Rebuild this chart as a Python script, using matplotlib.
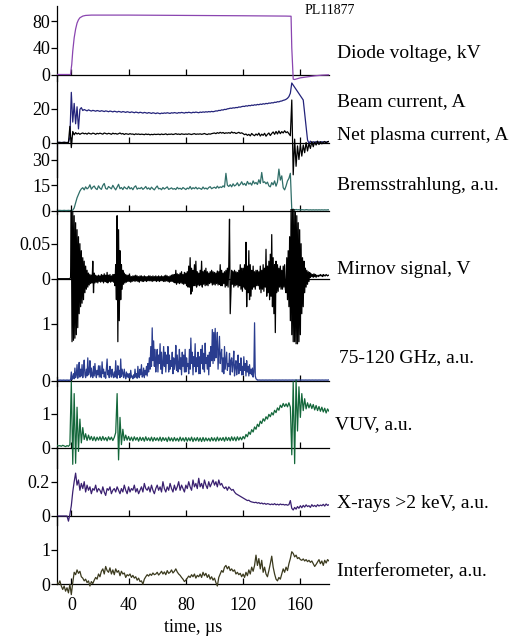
import matplotlib
matplotlib.use('Agg')
import matplotlib.pyplot as plt
import numpy as np
from matplotlib.ticker import FormatStrFormatter

plt.rcParams['font.family'] = ['Liberation Serif', 'DejaVu Serif']
plt.rcParams['font.size'] = 13

# sampled traces: one value per microsecond, t = -10 ... 180 us
t = np.arange(-10, 181)
# fast traces (Mirnov, GHz): one value per 0.5 us
t_fast = np.arange(-10, 180.5, 0.5)
time_ticks = [0, 40, 80, 120, 160]

# diode voltage, kV (read at breakpoints)
diode_t = [-10, -0.5, 0, 0.3, 1, 2, 3, 4, 5, 6, 8, 10, 14, 40, 80, 120, 150,
           153.5, 154, 155, 156, 160, 165, 170, 175, 180]
diode_v = [0, 0, 10, 15, 35, 55, 68, 77, 82, 85, 87.5, 88.5, 89, 89, 88.5, 88, 87.5,
           87.3, 40, -7, -7.5, -5, -3.5, -2, -1, -0.5]

# beam current, A
beam = [
    0, 0, 0.1, 0, 0, 0.1, 0, 0, 0.2, 3.0,
    29.5, 12, 23, 11, 21, 8, 19.5, 20.5, 18.8, 19.4,
    19.0, 18.6, 19.2, 18.8, 18.5, 18.9, 18.7, 18.4, 18.8, 18.6,
    18.3, 18.7, 18.5, 18.2, 18.6, 18.4, 18.1, 18.5, 18.3, 18.0,
    18.4, 18.2, 17.9, 18.3, 18.1, 17.8, 18.2, 18.0, 17.7, 18.1,
    17.9, 17.6, 18.0, 17.8, 17.5, 17.9, 17.7, 17.4, 17.8, 17.6,
    17.3, 17.7, 17.5, 17.2, 17.6, 17.4, 17.1, 17.5, 17.3, 17.0,
    17.4, 17.2, 16.9, 17.3, 17.1, 17.4, 17.2, 17.5, 17.3, 17.1,
    17.5, 17.3, 17.6, 17.4, 17.2, 17.6, 17.4, 17.7, 17.5, 17.3,
    17.7, 17.5, 17.8, 17.6, 17.4, 17.8, 17.6, 17.9, 17.7, 17.5,
    17.9, 17.7, 18.0, 17.8, 18.1, 17.9, 18.2, 18.0, 18.3, 18.1,
    18.3, 18.6, 18.5, 18.9, 18.8, 19.2, 19.1, 19.5, 19.4, 19.8,
    19.9, 20.2, 20.1, 20.4, 20.3, 20.6, 20.5, 20.9, 20.8, 21.1,
    21.3, 21.2, 21.6, 21.4, 21.8, 21.6, 22.0, 21.8, 22.2, 22.0,
    22.4, 22.2, 22.6, 22.4, 22.8, 22.6, 23.0, 22.8, 23.2, 23.1,
    23.4, 23.3, 23.7, 23.6, 24.0, 23.9, 24.3, 24.4, 24.8, 25.0,
    25.4, 26.0, 27.0, 29.0, 35.0, 33.8, 32.5, 31.2, 30.0, 28.8,
    27.5, 26.2, 25.0, 17.0, 9.0, 1.5, -0.5, 0.8, -0.6, 0.5,
    -0.3, 0.6, -0.2, 0.4, 0.0, 0.5, 0.1, 0.4, 0.2, 0.5,
    0.6,
]

# net plasma current, A
net_plasma = [
    0, 0.1, 0, -0.1, 0, 0.1, 0, -0.1, 0, 9.5,
    -3, 6.5, 4.5, 5.8, 5.0, 5.5, 4.8, 5.3, 5.6, 5.1,
    5.4, 4.9, 5.6, 5.2, 5.0, 5.5, 5.3, 4.8, 5.4, 5.1,
    5.5, 5.2, 4.9, 5.6, 5.3, 5.0, 5.4, 5.2, 4.8, 5.5,
    5.1, 5.3, 4.9, 5.2, 5.6, 5.0, 5.3, 4.7, 5.2, 5.0,
    4.8, 5.2, 4.9, 5.0, 4.6, 5.1, 4.8, 5.0, 4.7, 4.9,
    4.8, 4.6, 5.0, 4.7, 4.9, 4.5, 4.8, 4.6, 4.9, 4.7,
    4.8, 4.9, 4.6, 5.0, 4.7, 4.8, 5.1, 4.6, 4.9, 4.8,
    5.0, 4.7, 4.9, 5.2, 4.8, 5.0, 4.7, 5.1, 4.9, 4.8,
    5.0, 4.8, 5.1, 4.9, 4.7, 5.0, 5.2, 4.8, 5.0, 4.9,
    5.1, 4.8, 5.0, 5.3, 4.9, 4.7, 5.1, 4.9, 5.2, 5.4,
    5.6, 5.2, 5.8, 5.4, 6.0, 5.5, 5.9, 5.3, 5.7, 5.5,
    5.8, 5.4, 6.2, 5.6, 5.9, 5.3, 5.6, 6.0, 5.4, 5.7,
    5.2, 4.6, 5.0, 4.2, 4.8, 3.9, 5.3, 4.5, 4.0, 5.0,
    4.3, 5.5, 3.8, 4.9, 4.2, 5.4, 3.7, 4.8, 5.6, 4.1,
    5.3, 6.2, 4.8, 6.5, 5.0, 6.8, 5.2, 6.4, 5.6, 6.9,
    5.8, 6.3, 5.2, 4.0, 25.0, -19.0, 2.0, -14.0, -2.0, -10.0,
    -1.0, -8.0, -1.5, -6.0, 0.0, -5.0, -0.5, -3.5, 0.5, -2.5,
    0.3, -1.5, 0.8, -1.2, 0.5, -0.8, 0.2, 0.6, -0.4, 0.5,
    0.6,
]

# bremsstrahlung, a.u.
brems = [
    0, 0, 0.1, 0, 0, 0.1, 0, 0, 0.1, 0,
    0, 0.2, 1.5, 4.5, 7.5, 9.5, 11.5, 12.8, 13.5, 12.2,
    14.0, 12.8, 13.5, 15.2, 12.6, 13.8, 14.5, 13.0, 12.4, 14.6,
    13.2, 12.5, 14.8, 16.0, 13.0, 12.6, 14.2, 13.5, 12.8, 14.9,
    13.4, 12.2, 13.8, 15.5, 12.9, 13.6, 12.4, 14.0, 13.2, 12.7,
    14.3, 12.8, 13.5, 12.3, 13.9, 14.6, 12.6, 13.3, 12.9, 13.7,
    12.5, 13.2, 14.2, 12.7, 13.4, 12.4, 13.8, 12.9, 12.2, 13.5,
    14.5, 12.8, 13.1, 12.3, 13.6, 12.7, 13.3, 14.0, 12.5, 12.9,
    13.4, 12.6, 13.0, 12.4, 13.7, 12.8, 13.2, 12.5, 13.6, 13.0,
    12.4, 13.3, 12.8, 14.2, 12.6, 13.5, 12.9, 13.8, 12.7, 13.4,
    13.0, 12.5, 13.9, 12.8, 13.3, 12.6, 13.6, 14.1, 12.9, 13.4,
    13.8, 13.1, 14.4, 13.3, 14.0, 13.6, 14.6, 13.8, 22.0, 15.0,
    14.2, 15.3, 14.0, 15.8, 14.5, 15.1, 16.4, 14.6, 15.5, 17.0,
    15.2, 16.0, 14.8, 17.2, 15.6, 16.3, 15.0, 17.5, 15.8, 16.6,
    15.4, 18.2, 16.0, 22.5, 16.5, 17.0, 15.8, 16.8, 14.6, 14.0,
    16.5, 15.2, 17.5, 14.4, 16.8, 24.5, 18.0, 20.5, 13.5, 12.2,
    14.5, 17.5, 19.0, 22.0, 0.5, 0.8, 0.3, 0.6, 0.4, 0.5,
    0.3, 0.5, 0.4, 0.3, 0.5, 0.4, 0.3, 0.4, 0.3, 0.4,
    0.3, 0.4, 0.3, 0.4, 0.3, 0.4, 0.3, 0.4, 0.3, 0.4,
    0.4,
]

# Mirnov signal, V (0.5 us steps, one row = 10 us)
mirnov = [
    0, 0, 0, 0, 0, 0, 0, 0, 0, 0, 0, 0, 0, 0, 0, 0, 0, 0, 0, 0.002,
    0.098, -0.09, 0.095, -0.088, 0.09, -0.085, 0.08, -0.08, 0.07, -0.07,
    0.06, -0.05, 0.05, -0.04, 0.04, -0.035, 0.03, -0.03, 0.025, -0.02,
    0.018, -0.015, 0.012, -0.012, 0.008, -0.009, 0.006, -0.007, 0.005, -0.006,
    0.025, -0.02, 0.008, -0.006, 0.005, -0.005, 0.004, -0.006, 0.005, -0.004,
    0.004, -0.005, 0.006, -0.004, 0.005, -0.006, 0.007, -0.004, 0.005, -0.005,
    0.009, -0.006, 0.005, -0.004, 0.006, -0.005, 0.004, -0.004, 0.006, -0.005,
    0.006, -0.01, 0.02, -0.03, 0.09, -0.09, 0.07, -0.06, 0.04, -0.03,
    0.02, -0.015, 0.012, -0.008, 0.008, -0.006, 0.006, -0.005, 0.005, -0.004,
    0.005, -0.004, 0.004, -0.005, 0.003, -0.004, 0.004, -0.003, 0.004, -0.004,
    0.005, -0.003, 0.004, -0.004, 0.003, -0.005, 0.004, -0.003, 0.004, -0.004,
    0.003, -0.004, 0.004, -0.003, 0.003, -0.004, 0.003, -0.003, 0.004, -0.003,
    0.004, -0.003, 0.003, -0.004, 0.004, -0.003, 0.003, -0.003, 0.004, -0.004,
    0.003, -0.003, 0.004, -0.004, 0.003, -0.003, 0.004, -0.003, 0.003, -0.004,
    0.004, -0.004, 0.005, -0.003, 0.004, -0.004, 0.003, -0.005, 0.004, -0.004,
    0.005, -0.004, 0.006, -0.005, 0.006, -0.006, 0.012, -0.008, 0.007, -0.006,
    0.006, -0.007, 0.008, -0.006, 0.01, -0.007, 0.006, -0.008, 0.009, -0.007,
    0.008, -0.01, 0.01, -0.012, 0.018, -0.012, 0.03, -0.022, 0.015, -0.018,
    0.012, -0.01, 0.02, -0.01, 0.025, -0.012, 0.01, -0.009, 0.008, -0.01,
    0.012, -0.009, 0.025, -0.012, 0.01, -0.008, 0.012, -0.01, 0.015, -0.009,
    0.01, -0.01, 0.008, -0.007, 0.01, -0.006, 0.012, -0.009, 0.01, -0.008,
    0.009, -0.009, 0.008, -0.007, 0.011, -0.009, 0.01, -0.008, 0.02, -0.01,
    0.012, -0.01, 0.008, -0.007, 0.01, -0.012, 0.012, -0.01, 0.015, -0.012,
    0.02, 0.085, -0.05, -0.02, 0.012, -0.008, 0.01, -0.012, 0.012, -0.01,
    0.01, -0.009, 0.009, -0.012, 0.012, -0.01, 0.02, -0.015, 0.015, -0.018,
    0.015, -0.012, 0.02, -0.015, 0.052, -0.04, 0.018, -0.02, 0.04, -0.03,
    0.02, -0.025, 0.012, -0.015, 0.018, -0.012, 0.01, -0.015, 0.012, -0.01,
    0.012, -0.01, 0.01, -0.015, 0.018, -0.02, 0.012, -0.015, 0.02, -0.018,
    0.015, -0.012, 0.042, -0.025, 0.018, -0.02, 0.025, -0.03, 0.035, -0.025,
    0.063, -0.04, 0.03, -0.05, 0.02, -0.077, 0.025, -0.02, 0.02, -0.018,
    0.015, -0.012, 0.018, -0.015, 0.012, -0.015, 0.018, -0.012, 0.02, -0.015,
    -0.02, 0.03, -0.03, 0.04, -0.04, 0.06, -0.06, 0.1, -0.08, 0.1,
    -0.09, 0.1, -0.09, 0.095, -0.093, 0.09, -0.093, 0.08, -0.09, 0.07,
    -0.08, 0.05, -0.05, 0.03, -0.04, 0.025, -0.02, 0.015, -0.012, 0.012,
    -0.008, 0.01, -0.004, 0.009, 0.002, 0.007, 0.003, 0.006, 0.002, 0.007,
    0.003, 0.006, 0.002, 0.005, 0.004, 0.003, 0.005, 0.004, 0.006, 0.004,
    0.005, 0.003, 0.006, 0.004, 0.005, 0.004, 0.006, 0.005, 0.004, 0.005,
    0.005,
]

# 75-120 GHz emission, a.u. (0.5 us steps, one row = 10 us)
ghz = [
    0, 0.01, 0, 0.01, 0, 0.01, 0, 0.01, 0, 0.01, 0, 0.01, 0, 0.01, 0, 0.01, 0, 0.01, 0, 0.01,
    0.15, 0.02, 0.05, 0.12, 0.03, 0.22, 0.05, 0.1, 0.28, 0.04,
    0.15, 0.32, 0.06, 0.2, 0.08, 0.28, 0.05, 0.18, 0.36, 0.1,
    0.05, 0.2, 0.08, 0.4, 0.1, 0.15, 0.35, 0.06, 0.22, 0.1,
    0.05, 0.25, 0.08, 0.3, 0.12, 0.05, 0.18, 0.1, 0.26, 0.06,
    0.26, 0.08, 0.05, 0.33, 0.12, 0.2, 0.06, 0.15, 0.04, 0.22,
    0.38, 0.1, 0.18, 0.05, 0.25, 0.12, 0.06, 0.2, 0.1, 0.05,
    0.15, 0.06, 0.35, 0.12, 0.04, 0.26, 0.1, 0.18, 0.05, 0.38,
    0.07, 0.2, 0.12, 0.05, 0.2, 0.08, 0.03, 0.15, 0.06, 0.12,
    0.05, 0.12, 0.04, 0.18, 0.06, 0.08, 0.03, 0.1, 0.05, 0.2,
    0.06, 0.12, 0.04, 0.25, 0.08, 0.05, 0.2, 0.1, 0.28, 0.06,
    0.08, 0.22, 0.05, 0.18, 0.1, 0.25, 0.08, 0.3, 0.15, 0.4,
    0.2, 0.6, 0.25, 0.93, 0.35, 0.7, 0.25, 0.55, 0.15, 0.4,
    0.55, 0.15, 0.45, 0.3, 0.65, 0.2, 0.5, 0.12, 0.3, 0.6,
    0.25, 0.5, 0.15, 0.45, 0.3, 0.6, 0.15, 0.45, 0.2, 0.35,
    0.25, 0.5, 0.12, 0.4, 0.2, 0.3, 0.62, 0.18, 0.45, 0.15,
    0.3, 0.55, 0.2, 0.4, 0.1, 0.5, 0.25, 0.45, 0.15, 0.55,
    0.15, 0.4, 0.25, 0.3, 0.12, 0.55, 0.2, 0.75, 0.3, 0.5,
    0.1, 0.42, 0.25, 0.65, 0.15, 0.4, 0.25, 0.5, 0.12, 0.42,
    0.12, 0.55, 0.3, 0.62, 0.2, 0.48, 0.15, 0.66, 0.3, 0.4,
    0.2, 0.45, 0.1, 0.5, 0.25, 0.6, 0.35, 0.9, 0.3, 0.85,
    0.35, 0.92, 0.4, 0.6, 0.85, 0.2, 0.5, 0.78, 0.3, 0.45,
    0.55, 0.15, 0.4, 0.12, 0.6, 0.2, 0.35, 0.5, 0.18, 0.3,
    0.25, 0.48, 0.1, 0.35, 0.4, 0.15, 0.3, 0.52, 0.08, 0.25,
    0.35, 0.1, 0.22, 0.45, 0.12, 0.3, 0.18, 0.4, 0.1, 0.25,
    0.1, 0.42, 0.18, 0.3, 0.08, 0.35, 0.15, 0.25, 0.08, 0.28,
    0.12, 0.2, 0.1, 0.22, 0.06, 0.15, 1.02, 0.08, 0.03, 0.02,
    0.005, 0.01, 0.005, 0.01, 0.005, 0.01, 0.005, 0.01, 0.005, 0.01,
    0.005, 0.01, 0.005, 0.01, 0.005, 0.01, 0.005, 0.01, 0.005, 0.01,
    0.005, 0.01, 0.005, 0.01, 0.005, 0.01, 0.005, 0.01, 0.005, 0.01,
    0.005, 0.01, 0.005, 0.01, 0.005, 0.01, 0.005, 0.01, 0.005, 0.01,
    0.005, 0.01, 0.005, 0.01, 0.005, 0.01, 0.005, 0.01, 0.005, 0.01,
    0.005, 0.01, 0.005, 0.01, 0.005, 0.01, 0.005, 0.01, 0.005, 0.01,
    0.005, 0.01, 0.005, 0.01, 0.005, 0.01, 0.005, 0.01, 0.005, 0.01,
    0.005, 0.01, 0.005, 0.01, 0.005, 0.01, 0.005, 0.01, 0.005, 0.01,
    0.005, 0.01, 0.005, 0.01, 0.005, 0.01, 0.005, 0.01, 0.005, 0.01,
    0.005, 0.01, 0.005, 0.01, 0.005, 0.01, 0.005, 0.01, 0.005, 0.01,
    0.01,
]

# VUV, a.u.
vuv = [
    0.08, 0.06, 0.07, 0.05, 0.08, 0.06, 0.04, 0.07, 0.05, 0.1,
    1.95, -0.48, 1.6, -0.45, 1.2, -0.1, 0.85, 0.15, 0.6, 0.25,
    0.42, 0.22, 0.38, 0.24, 0.34, 0.22, 0.33, 0.21, 0.32, 0.23,
    0.33, 0.22, 0.34, 0.23, 0.31, 0.21, 0.33, 0.24, 0.32, 0.22,
    0.31, 0.45, 1.6, -0.35, 0.9, 0.1, 0.55, 0.22, 0.38, 0.23,
    0.34, 0.22, 0.32, 0.21, 0.33, 0.23, 0.31, 0.2, 0.32, 0.22,
    0.31, 0.2, 0.33, 0.22, 0.3, 0.21, 0.32, 0.2, 0.31, 0.22,
    0.3, 0.21, 0.32, 0.2, 0.31, 0.22, 0.3, 0.19, 0.32, 0.21,
    0.3, 0.2, 0.31, 0.21, 0.29, 0.2, 0.32, 0.21, 0.3, 0.2,
    0.31, 0.2, 0.3, 0.21, 0.32, 0.19, 0.3, 0.21, 0.31, 0.2,
    0.3, 0.19, 0.31, 0.2, 0.3, 0.21, 0.29, 0.2, 0.31, 0.21,
    0.3, 0.2, 0.32, 0.21, 0.3, 0.22, 0.31, 0.2, 0.32, 0.22,
    0.31, 0.21, 0.33, 0.22, 0.32, 0.21, 0.33, 0.23, 0.32, 0.24,
    0.34, 0.27, 0.4, 0.33, 0.47, 0.4, 0.54, 0.47, 0.62, 0.55,
    0.7, 0.63, 0.79, 0.72, 0.86, 0.79, 0.92, 0.85, 0.99, 0.92,
    1.04, 0.97, 1.11, 1.04, 1.18, 1.11, 1.26, 1.19, 1.31, 1.22,
    1.3, 1.21, 1.33, 1.2, -0.2, 1.95, -0.46, 2.0, 0.5, 1.8,
    0.9, 1.6, 1.1, 1.45, 1.15, 1.33, 1.18, 1.3, 1.16, 1.28,
    1.12, 1.25, 1.1, 1.22, 1.08, 1.2, 1.06, 1.17, 1.03, 1.15,
    1.08,
]

# X-rays > 2 keV, a.u.
xrays = [
    0, 0, 0, 0, 0, 0, 0, 0, -0.03, 0.01,
    0.06, 0.14, 0.2, 0.25, 0.18, 0.21, 0.15, 0.19, 0.16, 0.2,
    0.14, 0.18, 0.15, 0.17, 0.13, 0.16, 0.15, 0.18, 0.14, 0.16,
    0.15, 0.13, 0.17, 0.14, 0.12, 0.16, 0.15, 0.17, 0.13, 0.15,
    0.16, 0.14, 0.17, 0.15, 0.13, 0.16, 0.14, 0.18, 0.15, 0.13,
    0.17, 0.14, 0.16, 0.15, 0.18, 0.14, 0.16, 0.13, 0.15, 0.17,
    0.14, 0.19, 0.16, 0.15, 0.17, 0.14, 0.18, 0.15, 0.13, 0.16,
    0.18, 0.15, 0.17, 0.14, 0.2, 0.16, 0.14, 0.17, 0.15, 0.19,
    0.16, 0.14, 0.18, 0.15, 0.17, 0.2, 0.15, 0.18, 0.16, 0.14,
    0.18, 0.16, 0.2, 0.17, 0.15, 0.21, 0.17, 0.19, 0.16, 0.22,
    0.17, 0.19, 0.16, 0.21, 0.18, 0.16, 0.2, 0.17, 0.19, 0.21,
    0.18, 0.2, 0.17, 0.21, 0.18, 0.19, 0.17, 0.16, 0.17, 0.15,
    0.17, 0.16, 0.15, 0.155, 0.14, 0.13, 0.125, 0.12, 0.115, 0.11,
    0.105, 0.1, 0.095, 0.09, 0.092, 0.085, 0.082, 0.08, 0.078, 0.08,
    0.075, 0.078, 0.072, 0.076, 0.07, 0.074, 0.068, 0.072, 0.07, 0.066,
    0.07, 0.066, 0.072, 0.065, 0.069, 0.064, 0.07, 0.066, 0.068, 0.064,
    0.067, 0.063, 0.066, 0.09, 0.045, 0.035, 0.05, 0.04, 0.055, 0.045,
    0.06, 0.048, 0.062, 0.052, 0.065, 0.055, 0.06, 0.05, 0.066, 0.056,
    0.062, 0.054, 0.066, 0.058, 0.064, 0.06, 0.068, 0.058, 0.07, 0.062,
    0.066,
]

# interferometer, a.u.
interf = [
    0.05, 0.0, 0.1, -0.05, -0.15, -0.05, -0.2, -0.1, -0.25, 0.0,
    -0.3, 0.05, 0.35, 0.28, 0.42, 0.32, 0.38, 0.22, 0.18, 0.1,
    0.15, 0.05, 0.1, -0.05, 0.08, 0.02, 0.12, 0.2, 0.15, 0.3,
    0.22, 0.38, 0.45, 0.3, 0.52, 0.4, 0.35, 0.48, 0.3, 0.42,
    0.28, 0.45, 0.35, 0.4, 0.25, 0.38, 0.3, 0.33, 0.2, 0.28,
    0.25, 0.3, 0.2, 0.26, 0.18, 0.22, 0.12, 0.18, 0.08, 0.1,
    0.0, 0.15, 0.22, 0.28, 0.24, 0.3, 0.26, 0.33, 0.28, 0.3,
    0.35, 0.27, 0.32, 0.38, 0.3, 0.36, 0.28, 0.4, 0.32, 0.35,
    0.42, 0.33, 0.38, 0.45, 0.36, 0.3, 0.26, 0.2, 0.15, 0.08,
    0.12, 0.18, 0.24, 0.2, 0.28, 0.22, 0.3, 0.18, 0.26, 0.22,
    0.3, 0.2, 0.35, 0.25, 0.32, 0.2, 0.28, 0.15, 0.22, 0.12,
    0.18, 0.05, -0.05, 0.2, 0.3, 0.4, 0.35, 0.5, 0.55, 0.45,
    0.52, 0.4, 0.45, 0.38, 0.42, 0.3, 0.35, 0.28, 0.32, 0.22,
    0.3, 0.2, 0.35, 0.25, 0.42, 0.3, 0.5, 0.38, 0.55, 0.85,
    0.55, 0.75, 0.45, 0.7, 0.35, 0.5, 0.3, 0.22, 0.4, 0.6,
    0.82, 0.5, 0.3, 0.15, 0.1, 0.2, 0.15, 0.3, 0.45, 0.35,
    0.5, 0.4, 0.6, 0.75, 0.95, 0.9, 0.8, 0.85, 0.75, 0.78,
    0.72, 0.7, 0.74, 0.68, 0.72, 0.66, 0.7, 0.64, 0.68, 0.6,
    0.52, 0.58, 0.65, 0.72, 0.6, 0.68, 0.55, 0.7, 0.62, 0.72,
    0.68,
]

W, H = 515, 641
fig = plt.figure(figsize=(W / 100, H / 100), dpi=100)


def add_panel(zero_px, px_per_unit, lo, hi, yticks, spine_from_zero=False):
    # place an axes so that y=0 sits at pixel row zero_px (from the top)
    bottom = (H - zero_px + lo * px_per_unit) / H
    height = (hi - lo) * px_per_unit / H
    ax = fig.add_axes([57 / W, bottom, 272 / W, height])
    ax.patch.set_visible(False)
    ax.set_xlim(-10, 180)
    ax.set_ylim(lo, hi)
    for s in ['top', 'right']:
        ax.spines[s].set_visible(False)
    ax.spines['bottom'].set_position(('data', 0))
    for s in ['bottom', 'left']:
        ax.spines[s].set_linewidth(0.9)
    if spine_from_zero:
        ax.spines['left'].set_bounds(0, hi)
    ax.set_xticks(time_ticks)
    ax.set_yticks(yticks)
    ax.yaxis.set_major_formatter(FormatStrFormatter('%g'))
    ax.tick_params(axis='x', direction='in', length=4, width=0.9, labelbottom=False)
    ax.tick_params(axis='y', direction='out', length=4, width=0.9, pad=1)
    return ax


ax1 = add_panel(74.5, 0.6675, -9, 102.6, [0, 40, 80])
ax1.plot(diode_t, diode_v, color='#8a45b0', lw=0.9, zorder=3)

ax2 = add_panel(142.5, 1.7, -20, 40, [0, 20])
ax2.plot(t, beam, color='#23237a', lw=0.9, zorder=3)
ax2.plot(t, net_plasma, color='black', lw=0.9, zorder=3)

ax3 = add_panel(210.5, 1.69, -2, 40, [0, 15, 30])
ax3.plot(t, brems, color='#2f6e68', lw=0.9, zorder=3)

ax4 = add_panel(278.7, 700, -0.1, 0.1, [0, 0.05])
ax4.plot(t_fast, mirnov, color='black', lw=0.9, zorder=3)

ax5 = add_panel(380.5, 56.6, -0.1, 1.8, [0, 1])
ax5.plot(t_fast, ghz, color='#2a3d8f', lw=0.9, zorder=3)

ax6 = add_panel(448, 34, -0.6, 2.1, [0, 1])
ax6.plot(t, vuv, color='#13673a', lw=0.9, zorder=3)

ax7 = add_panel(516, 171.5, -0.05, 0.4, [0, 0.2])
ax7.plot(t, xrays, color='#3a2070', lw=0.9, zorder=3)

ax8 = add_panel(584.3, 34.3, -0.35, 1.99, [0, 1], spine_from_zero=True)
ax8.plot(t, interf, color='#3b3a1e', lw=0.9, zorder=3)
ax8.tick_params(axis='x', labelbottom=True, pad=9)

# signal names on the right
names = ['Diode voltage, kV', 'Beam current, A', 'Net plasma current, A',
         'Bremsstrahlung, a.u.', 'Mirnov signal, V', '75-120 GHz, a.u.',
         'VUV, a.u.', 'X-rays >2 keV, a.u.', 'Interferometer, a.u.']
name_pos = [(337, 53), (337, 102), (337, 135), (337, 185), (337, 270),
            (339, 358), (335, 425), (337, 503), (337, 572)]
for name, (x, y) in zip(names, name_pos):
    fig.text(x / W, 1 - y / H, name, ha='left', va='center', fontsize=14)

fig.text(305 / W, 1 - 11 / H, 'PL11877', ha='left', va='center', fontsize=10)
fig.text(193 / W, 1 - 627 / H, 'time, µs', ha='center', va='center')

fig.savefig('out.png', dpi=100)
